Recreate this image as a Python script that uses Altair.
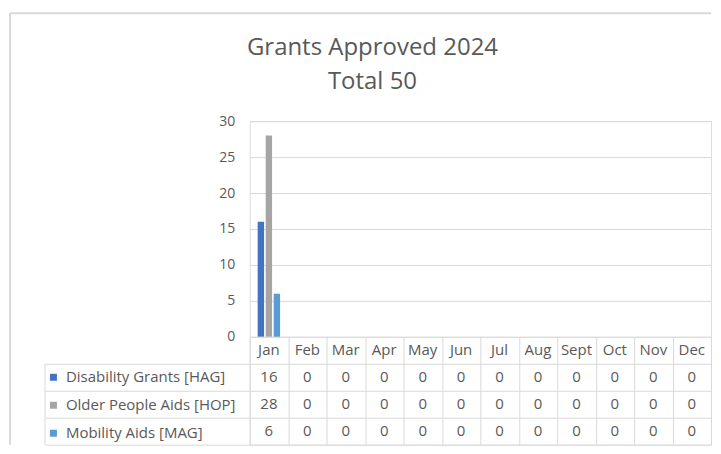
import altair as alt
import pandas as pd

# ---- data ----
months = ["Jan", "Feb", "Mar", "Apr", "May", "Jun", "Jul", "Aug", "Sept", "Oct", "Nov", "Dec"]
series = ["Disability Grants [HAG]", "Older People Aids [HOP]", "Mobility Aids [MAG]"]
disability = [16, 0, 0, 0, 0, 0, 0, 0, 0, 0, 0, 0]
older_people = [28, 0, 0, 0, 0, 0, 0, 0, 0, 0, 0, 0]
mobility = [6, 0, 0, 0, 0, 0, 0, 0, 0, 0, 0, 0]
colors = ["#4472C4", "#A5A5A5", "#5B9BD5"]
y_ticks = [0, 5, 10, 15, 20, 25, 30]
title_lines = ["Grants Approved 2024", "Total 50"]

FONT = "Open Sans"
TXT = "#595959"
GRID = "#D9D9D9"

rows = []
for s, vals in zip(series, [disability, older_people, mobility]):
    for m, v in zip(months, vals):
        rows.append({"month": m, "series": s, "value": v})
df = pd.DataFrame(rows)

header = pd.DataFrame({"month": months, "row": ["hdr"] * len(months), "label": months})
cells = pd.DataFrame({"month": df["month"], "row": df["series"], "label": df["value"].astype(str)})
table_df = pd.concat([header, cells], ignore_index=True)

W = 462
H = 216
ROW = 27

xscale = alt.Scale(type="band", domain=months, paddingInner=0, paddingOuter=0)

bars = alt.Chart(df).mark_bar().encode(
    x=alt.X("month:N", scale=xscale, sort=months, axis=None),
    xOffset=alt.XOffset("series:N", sort=series,
                        scale=alt.Scale(domain=series, paddingInner=0.2, paddingOuter=1.0)),
    y=alt.Y("value:Q", scale=alt.Scale(domain=[0, 30], nice=False),
            axis=alt.Axis(values=y_ticks, title=None, domain=False, ticks=False,
                          labelPadding=15, labelColor=TXT, labelFontSize=14, labelFont=FONT,
                          gridColor=GRID, gridWidth=1)),
    color=alt.Color("series:N", sort=series,
                    scale=alt.Scale(domain=series, range=colors),
                    legend=alt.Legend(orient="none", legendX=-204, legendY=249, title=None,
                                      symbolType="square", symbolSize=49, symbolStrokeWidth=0,
                                      labelFontSize=15, labelFont=FONT, labelColor=TXT,
                                      labelLimit=400, rowPadding=12, labelOffset=5,
                                      padding=0, direction="vertical")),
)

one = pd.DataFrame({"k": [0]})
frame_top = alt.Chart(one).mark_rule(color=GRID, strokeWidth=2).encode(
    x=alt.value(-240), x2=alt.value(W), y=alt.value(-108))
frame_left = alt.Chart(one).mark_rule(color=GRID, strokeWidth=2).encode(
    x=alt.value(-240), y=alt.value(-108), y2=alt.value(H + 4 * ROW))

title1 = alt.Chart(pd.DataFrame({"t": [title_lines[0]]})).mark_text(
    font=FONT, fontSize=24, color=TXT, align="center", baseline="alphabetic").encode(
    text="t:N", x=alt.value(123), y=alt.value(-66))
title2 = alt.Chart(pd.DataFrame({"t": [title_lines[1]]})).mark_text(
    font=FONT, fontSize=24, color=TXT, align="center", baseline="alphabetic").encode(
    text="t:N", x=alt.value(123), y=alt.value(-32))

top = alt.layer(bars, frame_top, frame_left, title1, title2).properties(width=W, height=H)

row_domain = ["hdr"] + series
table_text = alt.Chart(table_df).mark_text(
    font=FONT, fontSize=15, color=TXT, baseline="middle", align="center").encode(
    x=alt.X("month:N", scale=xscale, sort=months,
            axis=alt.Axis(title=None, labels=False, ticks=False, domain=False, grid=True,
                          tickBand="extent", gridColor=GRID, gridWidth=1)),
    y=alt.Y("row:N", scale=alt.Scale(type="band", domain=row_domain, paddingInner=0, paddingOuter=0),
            axis=alt.Axis(title=None, labels=False, values=series, tickBand="extent",
                          tickSize=205, tickColor=GRID, tickWidth=1, domain=False,
                          grid=True, gridColor=GRID, gridWidth=1)),
    text="label:N",
)
left_border = alt.Chart(one).mark_rule(color=GRID, strokeWidth=1).encode(
    x=alt.value(-205), y=alt.value(ROW), y2=alt.value(4 * ROW))

table = alt.layer(table_text, left_border).properties(width=W, height=4 * ROW)

chart = alt.vconcat(top, table, spacing=0, bounds="flush").resolve_scale(
    color="independent").resolve_legend(color="independent").properties(
    padding={"left": 0, "top": 3, "right": 0, "bottom": 0}
).configure_view(stroke=None).configure(font=FONT)

chart.save("out.html", embed_options={"renderer": "svg", "actions": False})
